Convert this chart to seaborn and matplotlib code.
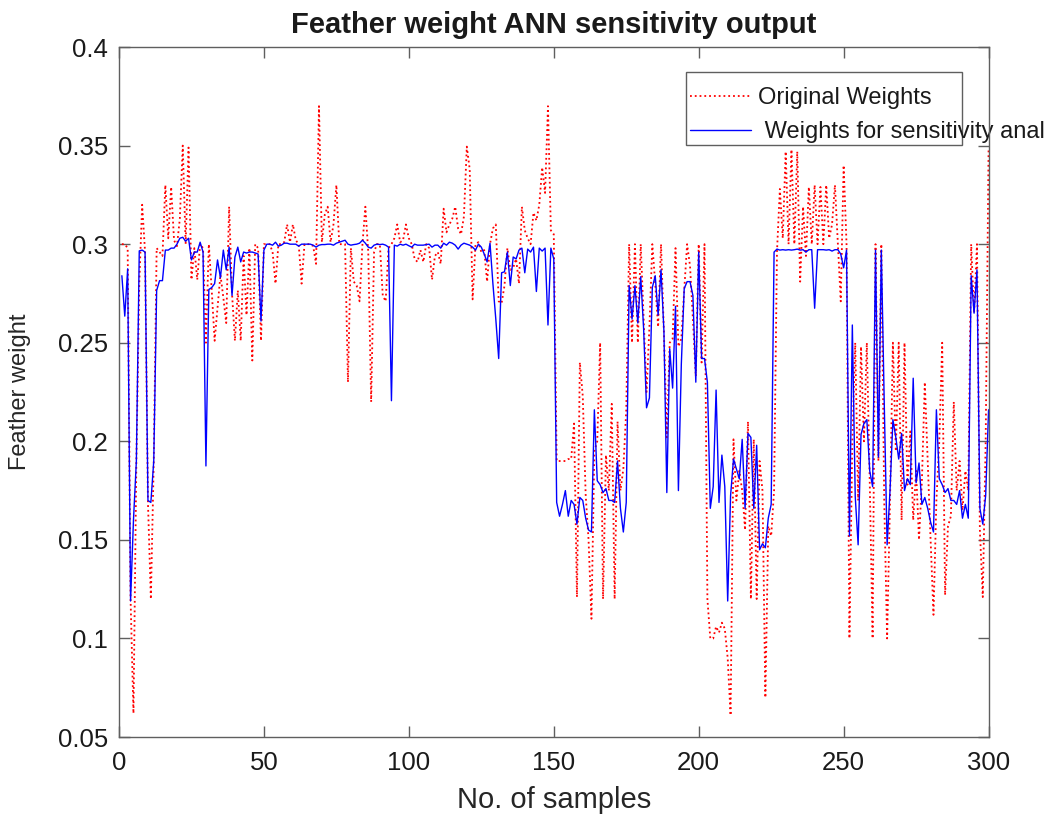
import numpy as np
import pandas as pd
import matplotlib
matplotlib.use("Agg")
import matplotlib.pyplot as plt
import seaborn as sns
from matplotlib.patches import Rectangle

# ---------------- data ----------------
samples = np.arange(1, 301)

original_weights = [
    0.300, 0.300, 0.298, 0.120, 0.062, 0.190, 0.280, 0.320, 0.296, 0.169,
    0.120, 0.190, 0.298, 0.296, 0.294, 0.330, 0.303, 0.329, 0.302, 0.299,
    0.313, 0.350, 0.300, 0.349, 0.282, 0.298, 0.282, 0.300, 0.298, 0.250,
    0.300, 0.2765, 0.251, 0.268, 0.2845, 0.273, 0.260, 0.319, 0.275, 0.251,
    0.2765, 0.251, 0.294, 0.264, 0.298, 0.241, 0.300, 0.298, 0.251, 0.300,
    0.300, 0.300, 0.296, 0.280, 0.300, 0.300, 0.301, 0.310, 0.301, 0.310,
    0.302, 0.300, 0.280, 0.300, 0.300, 0.300, 0.299, 0.290, 0.370, 0.301,
    0.315, 0.319, 0.301, 0.310, 0.330, 0.300, 0.300, 0.300, 0.230, 0.298,
    0.281, 0.279, 0.271, 0.300, 0.319, 0.296, 0.220, 0.296, 0.300, 0.300,
    0.274, 0.271, 0.298, 0.300, 0.303, 0.310, 0.301, 0.302, 0.310, 0.303,
    0.300, 0.2925, 0.291, 0.297, 0.291, 0.300, 0.298, 0.282, 0.294, 0.296,
    0.290, 0.318, 0.306, 0.310, 0.313, 0.319, 0.308, 0.305, 0.314, 0.3495,
    0.338, 0.272, 0.300, 0.301, 0.296, 0.297, 0.281, 0.300, 0.308, 0.310,
    0.271, 0.270, 0.279, 0.298, 0.287, 0.288, 0.2925, 0.280, 0.319, 0.307,
    0.303, 0.300, 0.316, 0.312, 0.320, 0.339, 0.326, 0.370, 0.307, 0.305,
    0.190, 0.190, 0.190, 0.190, 0.191, 0.191, 0.209, 0.121, 0.240, 0.223,
    0.173, 0.150, 0.110, 0.195, 0.200, 0.250, 0.120, 0.193, 0.175, 0.219,
    0.120, 0.210, 0.175, 0.186, 0.216, 0.300, 0.250, 0.300, 0.250, 0.300,
    0.262, 0.225, 0.258, 0.300, 0.280, 0.258, 0.300, 0.255, 0.202, 0.250,
    0.252, 0.298, 0.248, 0.252, 0.2765, 0.300, 0.289, 0.262, 0.233, 0.300,
    0.240, 0.300, 0.120, 0.100, 0.100, 0.106, 0.103, 0.108, 0.105, 0.090,
    0.061, 0.201, 0.170, 0.185, 0.175, 0.155, 0.210, 0.120, 0.201, 0.120,
    0.190, 0.175, 0.070, 0.157, 0.152, 0.175, 0.296, 0.328, 0.303, 0.347,
    0.300, 0.348, 0.300, 0.347, 0.281, 0.319, 0.294, 0.329, 0.300, 0.330,
    0.300, 0.329, 0.300, 0.330, 0.303, 0.310, 0.330, 0.300, 0.271, 0.340,
    0.300, 0.100, 0.200, 0.250, 0.170, 0.248, 0.200, 0.250, 0.180, 0.100,
    0.300, 0.190, 0.300, 0.170, 0.100, 0.170, 0.250, 0.195, 0.250, 0.160,
    0.250, 0.178, 0.205, 0.160, 0.185, 0.150, 0.180, 0.230, 0.190, 0.150,
    0.112, 0.170, 0.200, 0.250, 0.122, 0.157, 0.162, 0.220, 0.175, 0.190,
    0.165, 0.185, 0.175, 0.300, 0.265, 0.300, 0.155, 0.121, 0.200, 0.348,
]

sensitivity_weights = [
    0.284, 0.2635, 0.2875, 0.119, 0.160, 0.190, 0.2966, 0.297, 0.296, 0.170,
    0.169, 0.190, 0.2765, 0.2815, 0.2815, 0.297, 0.297, 0.298, 0.298, 0.300,
    0.303, 0.3035, 0.3015, 0.303, 0.292, 0.296, 0.296, 0.301, 0.296, 0.1875,
    0.277, 0.278, 0.280, 0.292, 0.283, 0.297, 0.287, 0.2985, 0.274, 0.2935,
    0.2985, 0.291, 0.296, 0.2955, 0.296, 0.296, 0.2955, 0.295, 0.261, 0.297,
    0.300, 0.300, 0.2995, 0.301, 0.299, 0.2995, 0.3005, 0.3005, 0.300, 0.300,
    0.300, 0.299, 0.300, 0.300, 0.300, 0.300, 0.2995, 0.2985, 0.2995, 0.2998,
    0.2998, 0.300, 0.300, 0.2995, 0.3005, 0.301, 0.3015, 0.302, 0.300, 0.2995,
    0.2998, 0.300, 0.3005, 0.302, 0.3005, 0.2985, 0.298, 0.2995, 0.300, 0.2998,
    0.300, 0.2995, 0.2985, 0.2206, 0.2995, 0.299, 0.300, 0.2995, 0.300, 0.2992,
    0.2985, 0.300, 0.2995, 0.2995, 0.2995, 0.2998, 0.300, 0.2985, 0.2995, 0.2995,
    0.298, 0.3005, 0.2995, 0.301, 0.3005, 0.2995, 0.2975, 0.2995, 0.3005, 0.300,
    0.2995, 0.2985, 0.297, 0.300, 0.2985, 0.295, 0.291, 0.3005, 0.280, 0.262,
    0.242, 0.2855, 0.286, 0.296, 0.279, 0.2935, 0.2925, 0.297, 0.298, 0.2855,
    0.2975, 0.296, 0.2985, 0.276, 0.298, 0.2965, 0.298, 0.259, 0.298, 0.2925,
    0.169, 0.162, 0.168, 0.175, 0.162, 0.170, 0.168, 0.158, 0.1715, 0.170,
    0.161, 0.155, 0.154, 0.216, 0.180, 0.178, 0.174, 0.176, 0.170, 0.170,
    0.169, 0.190, 0.166, 0.154, 0.169, 0.279, 0.262, 0.279, 0.260, 0.2835,
    0.257, 0.217, 0.222, 0.278, 0.284, 0.264, 0.287, 0.256, 0.174, 0.247,
    0.227, 0.2685, 0.175, 0.239, 0.2775, 0.281, 0.281, 0.274, 0.230, 0.296,
    0.242, 0.242, 0.230, 0.166, 0.177, 0.226, 0.169, 0.193, 0.177, 0.119,
    0.1725, 0.191, 0.186, 0.181, 0.201, 0.166, 0.204, 0.202, 0.166, 0.198,
    0.145, 0.148, 0.146, 0.161, 0.168, 0.296, 0.2975, 0.297, 0.2972, 0.297,
    0.2972, 0.297, 0.2972, 0.2975, 0.297, 0.2972, 0.296, 0.2972, 0.2972, 0.2675,
    0.2972, 0.2972, 0.2972, 0.297, 0.2972, 0.2965, 0.2972, 0.2972, 0.295, 0.288,
    0.297, 0.152, 0.259, 0.172, 0.1475, 0.2035, 0.209, 0.211, 0.185, 0.177,
    0.297, 0.192, 0.297, 0.220, 0.1475, 0.175, 0.211, 0.202, 0.191, 0.204,
    0.175, 0.181, 0.178, 0.232, 0.179, 0.189, 0.168, 0.1715, 0.166, 0.159,
    0.154, 0.216, 0.181, 0.178, 0.174, 0.176, 0.170, 0.170, 0.168, 0.175,
    0.161, 0.168, 0.161, 0.284, 0.265, 0.287, 0.166, 0.158, 0.1725, 0.216,
]

series_names = ["Original Weights", " Weights for sensitivity anal"]
x_ticks = [0, 50, 100, 150, 200, 250, 300]
y_ticks = [0.05, 0.10, 0.15, 0.20, 0.25, 0.30, 0.35, 0.40]
y_tick_labels = ["0.05", "0.1", "0.15", "0.2", "0.25", "0.3", "0.35", "0.4"]
title_text = "Feather weight ANN sensitivity output"
x_label = "No. of samples"
y_label = "Feather weight"

# ---------------- style ----------------
sns.set_style("white")
plt.rcParams["font.family"] = ["Liberation Sans", "DejaVu Sans"]
plt.rcParams["text.color"] = "#1a1a1a"

edge = "#5f5f5f"

fig = plt.figure(figsize=(10.51, 8.18), dpi=100)
fig.patch.set_facecolor("white")
ax = fig.add_axes([0.1132, 0.0990, 0.8274, 0.8435])
ax.set_facecolor("white")

sns.lineplot(x=samples, y=original_weights, ax=ax, color="#FF0000",
             linestyle=":", linewidth=1.3, estimator=None, sort=False,
             label=series_names[0], legend=False, zorder=2)
sns.lineplot(x=samples, y=sensitivity_weights, ax=ax, color="#0000FF",
             linestyle="-", linewidth=1.0, estimator=None, sort=False,
             label=series_names[1], legend=False, zorder=2.05)

ax.set_xlim(0, 300)
ax.set_ylim(0.05, 0.4)
ax.set_xticks(x_ticks)
ax.set_xticklabels([str(t) for t in x_ticks])
ax.set_yticks(y_ticks)
ax.set_yticklabels(y_tick_labels)

ax.tick_params(axis="both", which="both", direction="in", length=8, width=1,
               color=edge, labelsize=18.5, labelcolor="#1a1a1a",
               top=True, right=True, bottom=True, left=True)
ax.tick_params(axis="x", pad=10)
ax.tick_params(axis="y", pad=8)
for sp in ax.spines.values():
    sp.set_visible(True)
    sp.set_color(edge)
    sp.set_linewidth(1.0)
    sp.set_zorder(3)

ax.set_title(title_text, fontsize=21, fontweight="bold", pad=10)
ax.set_xlabel(x_label, fontsize=21, labelpad=8)
ax.set_ylabel(y_label, fontsize=17)
ax.yaxis.set_label_coords(-0.101, 0.5)

# legend: frame box (fixed size, as in the reference), text overflows it
frame = Rectangle((0.6527, 0.8227), 0.2626, 0.0893, transform=fig.transFigure,
                  facecolor="white", edgecolor=edge, linewidth=1.0,
                  zorder=2.2, clip_on=False)
ax.add_patch(frame)
handles = ax.get_lines()[:2]
leg = ax.legend(handles, series_names, loc="upper left",
                bbox_to_anchor=(0.652, 0.899), bbox_transform=fig.transFigure,
                frameon=False, fontsize=17, handlelength=2.6,
                handletextpad=0.3, labelspacing=0.5, borderaxespad=0,
                borderpad=0.2)
leg.set_zorder(2.3)

fig.savefig("out.png", dpi=100, facecolor="white")
